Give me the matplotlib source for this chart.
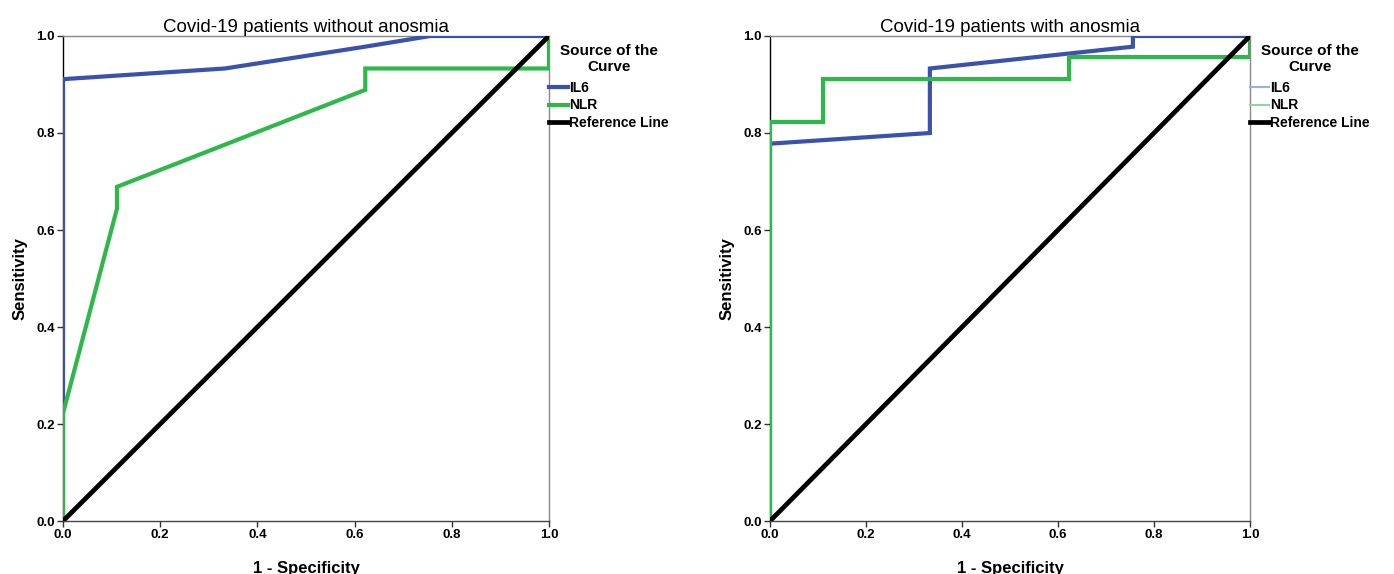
import matplotlib
matplotlib.use("Agg")
import matplotlib.pyplot as plt
from matplotlib.lines import Line2D

# ── data ─────────────────────────────────────────────────────────────────────
TITLES = ["Covid-19 patients without anosmia", "Covid-19 patients with anosmia"]

il6_no_x = [0.0, 0.0, 0.333, 0.622, 0.756, 1.0]
il6_no_y = [0.0, 0.911, 0.933, 0.978, 1.0, 1.0]
nlr_no_x = [0.0, 0.0, 0.111, 0.111, 0.622, 0.622, 1.0, 1.0]
nlr_no_y = [0.0, 0.222, 0.644, 0.689, 0.889, 0.933, 0.933, 1.0]

il6_an_x = [0.0, 0.0, 0.333, 0.333, 0.756, 0.756, 1.0]
il6_an_y = [0.0, 0.778, 0.800, 0.933, 0.978, 1.0, 1.0]
nlr_an_x = [0.0, 0.0, 0.111, 0.111, 0.622, 0.622, 1.0, 1.0]
nlr_an_y = [0.0, 0.822, 0.822, 0.911, 0.911, 0.956, 0.956, 1.0]

ref_x = [0.0, 1.0]
ref_y = [0.0, 1.0]

TICKS = [0.0, 0.2, 0.4, 0.6, 0.8, 1.0]

# ── styling ──────────────────────────────────────────────────────────────────
C_IL6 = "#3a52ad"
C_NLR = "#2fb84a"
C_IL6_LIGHT = "#9aaee0"
C_NLR_LIGHT = "#8fd89c"
SANS = ["Liberation Sans", "DejaVu Sans"]

fig = plt.figure(figsize=(13.94, 5.74), dpi=100)
axes = [fig.add_axes([0.0452, 0.0923, 0.3486, 0.845]),
        fig.add_axes([0.5524, 0.0923, 0.3443, 0.845])]

panels = [
    (il6_no_x, il6_no_y, nlr_no_x, nlr_no_y),
    (il6_an_x, il6_an_y, nlr_an_x, nlr_an_y),
]

for i, (ax, title, (ix, iy, nx, ny)) in enumerate(zip(axes, TITLES, panels)):
    ax.plot(ix, iy, color=C_IL6, lw=3.0, solid_joinstyle="miter", zorder=3)
    ax.plot(nx, ny, color=C_NLR, lw=3.0, solid_joinstyle="miter", zorder=3)
    ax.plot(ref_x, ref_y, color="black", lw=3.4, zorder=4)

    ax.set_xlim(0, 1)
    ax.set_ylim(0, 1)
    ax.set_xticks(TICKS)
    ax.set_yticks(TICKS)
    ax.set_xticklabels([f"{t:.1f}" for t in TICKS])
    ax.set_yticklabels([f"{t:.1f}" for t in TICKS])
    ax.tick_params(direction="out", length=4, width=1, pad=2, color="#333333")
    for lab in ax.get_xticklabels() + ax.get_yticklabels():
        lab.set_fontfamily(SANS)
        lab.set_fontweight("bold")
        lab.set_fontsize(9.5)

    ax.spines["left"].set_color("black")
    ax.spines["bottom"].set_color("#444444")
    ax.spines["top"].set_color("#888888")
    ax.spines["right"].set_color("#888888")
    for s in ax.spines.values():
        s.set_linewidth(1.0)

    ax.set_title(title, fontsize=13.5, family=SANS, pad=3)
    ax.set_xlabel("1 - Specificity", fontsize=12, fontweight="bold",
                  family=SANS, labelpad=14)
    ax.set_ylabel("Sensitivity", fontsize=12, fontweight="bold",
                  family=SANS, labelpad=6)

    if i == 0:
        handles = [Line2D([], [], color=C_IL6, lw=3.0),
                   Line2D([], [], color=C_NLR, lw=3.0),
                   Line2D([], [], color="black", lw=3.4)]
    else:
        handles = [Line2D([], [], color=C_IL6_LIGHT, lw=1.5),
                   Line2D([], [], color=C_NLR_LIGHT, lw=1.5),
                   Line2D([], [], color="black", lw=3.4)]
    leg = ax.legend(handles, ["IL6", "NLR", "Reference Line"],
                    loc="upper left", bbox_to_anchor=(1.0, 0.984),
                    frameon=False, borderaxespad=0, borderpad=0,
                    handlelength=1.4, handletextpad=0.05, labelspacing=0.25,
                    title="Source of the\nCurve",
                    prop={"family": SANS, "weight": "bold", "size": 10},
                    title_fontproperties={"family": SANS, "weight": "bold",
                                          "size": 11})
    leg.get_title().set_multialignment("center")
    leg._legend_box.sep = 5

fig.savefig("out.png", dpi=100, facecolor="white")
